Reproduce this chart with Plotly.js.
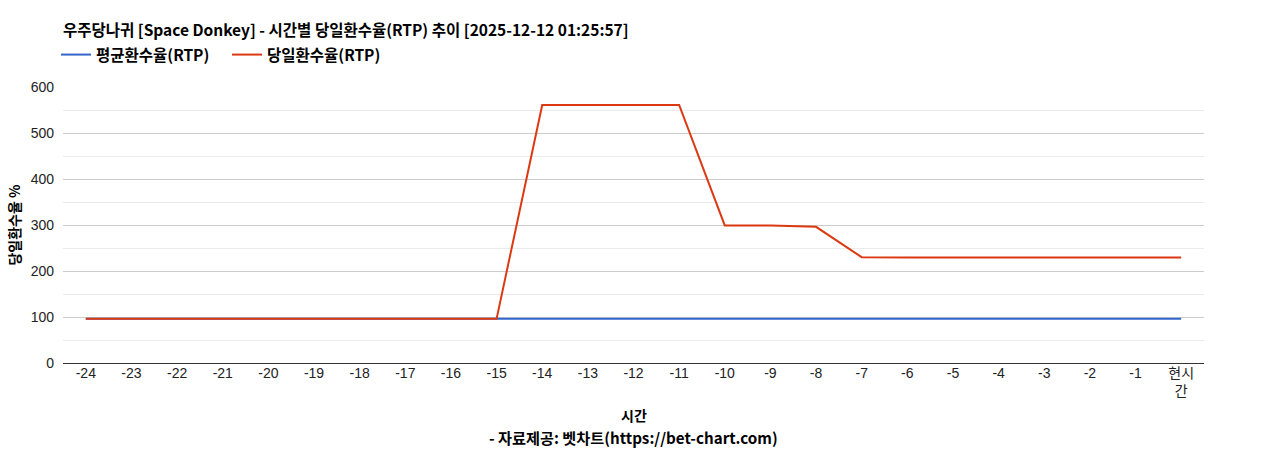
<!DOCTYPE html>
<html>
<head>
<meta charset="utf-8">
<script src="https://cdn.plot.ly/plotly-3.0.1.min.js"></script>
<style>
  body { margin: 0; background: #fff; }
  #chart { width: 1268px; height: 450px; }
</style>
</head>
<body>
<div id="chart"></div>
<script>
// hours before now, last one is "now"
var hours = ['-24','-23','-22','-21','-20','-19','-18','-17','-16','-15','-14','-13','-12',
             '-11','-10','-9','-8','-7','-6','-5','-4','-3','-2','-1','현시<br>간'];

var avgRtp = [96,96,96,96,96,96,96,96,96,96,96,96,96,96,96,96,96,96,96,96,96,96,96,96,96];
var dayRtp = [96,96,96,96,96,96,96,96,96,96,561,561,561,561,299,299,296,230,229.5,229.5,229.5,229.5,229.5,229.5,229.5];

var titleText = '우주당나귀 [Space Donkey] - 시간별 당일환수율(RTP) 추이 [2025-12-12 01:25:57]';
var tickFam = 'Arial, "Liberation Sans", "Noto Sans CJK KR", sans-serif';
var krFam = '"Noto Sans CJK KR", "Noto Sans", sans-serif';

var avg = {
    x: hours,
    y: avgRtp,
    mode: 'lines',
    type: 'scatter',
    name: '평균환수율(RTP)',
    line: {color: '#3366cc', width: 2}
};

var day = {
    x: hours,
    y: dayRtp,
    mode: 'lines',
    type: 'scatter',
    name: '당일환수율(RTP)',
    line: {color: '#dc3912', width: 2}
};

var layout = {
    width: 1268,
    height: 450,
    margin: {l: 63, r: 64, t: 87, b: 87},
    paper_bgcolor: '#fff',
    plot_bgcolor: '#fff',
    font: {family: tickFam, size: 14, color: '#222'},
    showlegend: true,
    title: {
        text: '<b>' + titleText + '</b>',
        font: {family: krFam, size: 15.5, color: '#000'},
        x: 63/1268, xanchor: 'left',
        y: 1 - 31/450, yanchor: 'middle'
    },
    legend: {
        orientation: 'h',
        xref: 'container',
        x: 56/1268, xanchor: 'left',
        y: 1 - 55/450, yref: 'container', yanchor: 'middle',
        font: {family: krFam, size: 15.5, color: '#000', weight: 'bold'},
        itemwidth: 30,
        entrywidth: 126,
        entrywidthmode: 'pixels',
        tracegroupgap: 0
    },
    xaxis: {
        type: 'category',
        range: [-0.5, 24.5],
        showgrid: false,
        ticks: '',
        tickfont: {size: 14, color: '#222'},
        showline: false,
        zeroline: false,
        fixedrange: true
    },
    yaxis: {
        range: [0, 600],
        tickvals: [0, 100, 200, 300, 400, 500, 600],
        gridcolor: '#cccccc',
        gridwidth: 1,
        minor: {dtick: 50, showgrid: true, gridcolor: '#ebebeb', gridwidth: 1},
        zeroline: true,
        zerolinecolor: '#333',
        zerolinewidth: 1,
        tickfont: {size: 14, color: '#222'},
        ticklabelstandoff: 8,
        title: {
            text: '<b>당일환수율 %</b>',
            font: {family: krFam, size: 14, color: '#000'},
            standoff: 6
        },
        fixedrange: true
    },
    annotations: [
        {
            text: '<b>시간</b>', showarrow: false,
            xref: 'paper', yref: 'paper',
            x: 0.5, y: -52/276, yanchor: 'middle',
            font: {family: krFam, size: 14, color: '#000'}
        },
        {
            text: '<b>- 자료제공: 벳차트(https://bet-chart.com)</b>', showarrow: false,
            xref: 'paper', yref: 'paper',
            x: 0.5, y: -74/276, yanchor: 'middle',
            font: {family: krFam, size: 15.2, color: '#000'}
        }
    ]
};

Plotly.newPlot('chart', [avg, day], layout, {displayModeBar: false, staticPlot: true});
</script>
</body>
</html>
